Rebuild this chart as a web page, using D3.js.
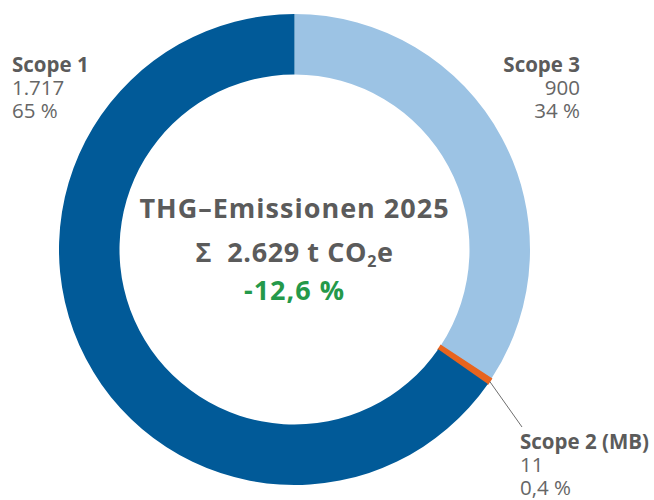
<!DOCTYPE html>
<meta charset="utf-8">
<style>
    body { margin: 0; background: #fff; }
    text { font-family: "Open Sans", "Noto Sans", sans-serif; fill: #5b5b5b; }
</style>
<body>
<svg id="chart" width="654" height="500"></svg>
</body>
<script src="https://d3js.org/d3.v7.min.js"></script>
<script>

    // data
    var categories = ["Scope 3", "Scope 2 (MB)", "Scope 1"];
    var values = [900, 11, 1717];
    var valueLabels = ["900", "11", "1.717"];
    var shareLabels = ["34 %", "0,4 %", "65 %"];
    var colors = ["#9cc3e4", "#e8641e", "#015a98"];

    var titleLines = ["THG–Emissionen 2025", "2.629 t CO", "-12,6 %"];

    var svg = d3.select("#chart");
    var cx = 294.5, cy = 249.5;
    var outerR = 235.5, innerR = 175;

    var pie = d3.pie().sort(null).value(function (d) { return d; });
    var arc = d3.arc().innerRadius(innerR).outerRadius(outerR);
    var arcs = pie(values);

    var g = svg.append("g").attr("transform", "translate(" + cx + "," + cy + ")");

    g.selectAll("path.slice")
        .data(arcs)
        .enter().append("path")
        .attr("class", "slice")
        .attr("d", arc)
        .attr("fill", function (d, i) { return colors[i]; })
        .attr("stroke", function (d, i) { return i == 1 ? colors[i] : "none"; })
        .attr("stroke-width", 1.5);

    // leader line for scope 2
    var s2 = arcs[1];
    var a2 = (s2.startAngle + s2.endAngle) / 2;
    var p0 = [Math.sin(a2) * outerR, -Math.cos(a2) * outerR];
    g.append("line")
        .attr("x1", p0[0]).attr("y1", p0[1])
        .attr("x2", 522 - cx).attr("y2", 427 - cy)
        .attr("stroke", "#6e6e6e")
        .attr("stroke-width", 1);

    // labels, one text per line
    var labelPos = [
        { x: 580, y: 72, anchor: "end" },
        { x: 520, y: 449, anchor: "start" },
        { x: 12, y: 72, anchor: "start" }
    ];

    categories.forEach(function (c, i) {
        var p = labelPos[i];
        var lines = [c, valueLabels[i], shareLabels[i]];
        lines.forEach(function (s, j) {
            svg.append("text")
                .attr("x", p.x).attr("y", p.y + j * 23)
                .attr("text-anchor", p.anchor)
                .attr("font-weight", j == 0 ? 700 : 400)
                .style("font-size", "20.5px")
                .style("fill", j == 0 ? "#5b5b5b" : "#666")
                .text(s);
        });
    });

    // centre text
    svg.append("text")
        .attr("x", cx).attr("y", 218)
        .attr("text-anchor", "middle")
        .attr("font-weight", 700)
        .style("font-size", "27px")
        .style("letter-spacing", "1px")
        .text(titleLines[0]);

    var t2 = svg.append("text")
        .attr("x", cx).attr("y", 262)
        .attr("text-anchor", "middle")
        .attr("font-weight", 700)
        .style("font-size", "27px")
        .style("letter-spacing", "0.6px");
    t2.append("tspan").text("Σ\u00a0\u00a0" + titleLines[1]);
    t2.append("tspan").attr("dy", 5).style("font-size", "16px").text("2");
    t2.append("tspan").attr("dy", -5).text("e");

    svg.append("text")
        .attr("x", cx).attr("y", 300)
        .attr("text-anchor", "middle")
        .attr("font-weight", 700)
        .style("font-size", "27px")
        .style("letter-spacing", "1px")
        .style("fill", "#24994a")
        .text(titleLines[2]);

</script>
